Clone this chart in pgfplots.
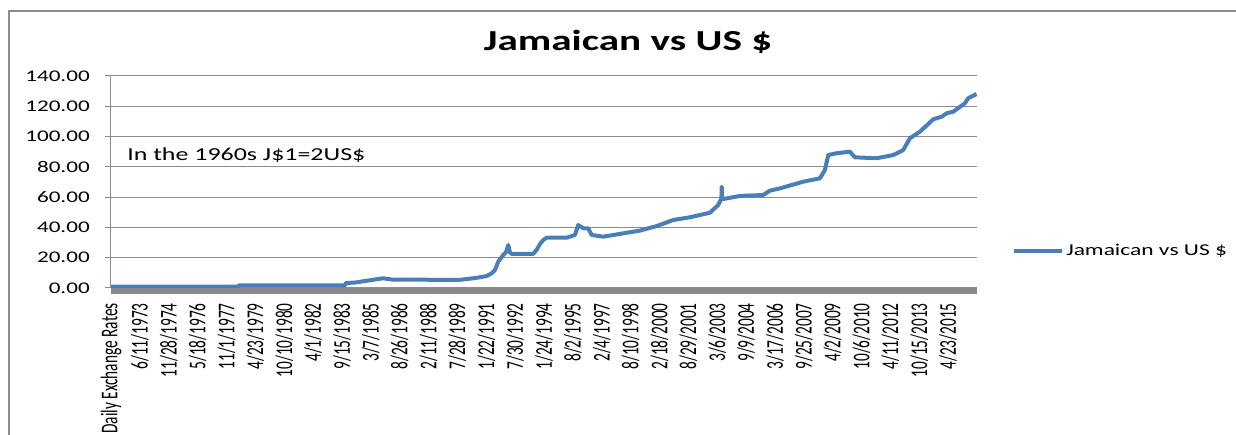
\documentclass[border=0pt]{standalone}
\usepackage{pgfplots}
\pgfplotsset{compat=1.18}
\usepackage{fontspec}
\setmainfont{Carlito}[FakeStretch=1.42]
\newfontfamily\xlabfont{Carlito}[FakeStretch=0.639]
\definecolor{exblue}{HTML}{4A7EBB}
\definecolor{gridgray}{HTML}{8C8C8C}
\definecolor{bargray}{HTML}{888888}
\pgfplotstableread{
x y
0.000 0.89
4.399 0.89
4.434 1.78
8.105 1.78
8.140 3.30
8.452 3.60
8.867 4.80
9.422 6.40
9.768 5.50
12.089 5.40
12.549 6.40
12.781 7.10
13.013 7.90
13.187 9.70
13.301 11.90
13.415 17.40
13.588 21.80
13.682 23.50
13.762 28.40
13.820 23.50
13.879 22.50
14.627 22.50
14.756 25.50
14.860 29.00
14.974 31.70
15.092 33.20
15.785 33.20
16.072 35.00
16.187 41.60
16.360 39.40
16.533 39.40
16.651 35.00
17.052 33.90
17.745 36.10
18.323 37.90
18.902 40.90
19.477 44.90
20.055 46.70
20.748 49.70
21.036 54.80
21.146 59.20
21.157 66.90
21.171 58.60
21.787 60.80
22.594 61.40
22.826 64.30
23.173 65.80
23.980 70.20
24.558 72.40
24.731 77.90
24.846 87.80
25.137 89.00
25.598 90.00
25.771 86.30
26.523 85.70
27.097 87.80
27.444 91.10
27.676 98.90
28.022 103.20
28.483 111.40
28.774 113.10
28.947 115.40
29.176 116.40
29.581 122.00
29.695 125.30
29.986 128.10
}\ratedata
\begin{document}
\begin{tikzpicture}
\useasboundingbox (-83.25pt,-110.25pt) rectangle (843.75pt,216pt);
\draw[gridgray, line width=1.5pt] (-76.5pt,-120pt) -- (-76.5pt,207.75pt) -- (860pt,207.75pt);
\fill[bargray] (0pt,-4.5pt) rectangle (649.5pt,0pt);
\node[anchor=base, inner sep=0pt, font=\fontsize{21.75}{26}\selectfont\bfseries] at (387.75pt,178pt) {Jamaican vs US \$};
\node[anchor=base west, inner sep=0pt, font=\fontsize{13.7}{16}\selectfont] at (12pt,95.5pt) {In the 1960s J\$1=2US\$};
\begin{axis}[
  at={(0pt,0pt)}, anchor=south west,
  scale only axis, width=649.5pt, height=159pt,
  xmin=0, xmax=30, ymin=0, ymax=140,
  axis lines*=left,
  x axis line style={draw=none},
  y axis line style={-, gridgray, line width=0.75pt},
  xtick={0,...,29},
  xticklabels={Daily Exchange Rates,6/11/1973,11/28/1974,5/18/1976,11/1/1977,4/23/1979,10/10/1980,4/1/1982,9/15/1983,3/7/1985,8/26/1986,2/11/1988,7/28/1989,1/22/1991,7/30/1992,1/24/1994,8/2/1995,2/4/1997,8/10/1998,2/18/2000,8/29/2001,3/6/2003,9/9/2004,3/17/2006,9/25/2007,4/2/2009,10/6/2010,4/11/2012,10/15/2013,4/23/2015},
  xtick style={draw=none},
  xticklabel style={font=\xlabfont\fontsize{18}{19}\selectfont, yshift=-6.75pt, rotate=90, anchor=east, inner sep=0pt},
  ytick={0,20,...,140},
  ytick style={gridgray, line width=0.75pt},
  tick align=outside,
  major tick length=4.5pt,
  yticklabel style={font=\fontsize{12.2}{14}\selectfont, anchor=east, inner sep=0pt, xshift=-11.25pt},
  /pgf/number format/.cd, fixed, fixed zerofill, precision=2, assume math mode=true,
  /pgfplots/.cd,
  ymajorgrids, grid style={gridgray, line width=0.75pt},
  legend style={draw=none, fill=none, at={(1.0404,0.1745)}, anchor=west, inner sep=0pt,
    nodes={inner sep=0pt, anchor=west}, column sep=1.5pt, font=\fontsize{12.4}{14}\selectfont},
  legend image code/.code={\draw[#1] (0pt,0pt) -- (36pt,0pt);},
]
\addplot[exblue, line width=3pt, line join=round, no marks] table[x=x, y=y] {\ratedata};
\addlegendentry{Jamaican vs US \$}
\end{axis}
\end{tikzpicture}
\end{document}
